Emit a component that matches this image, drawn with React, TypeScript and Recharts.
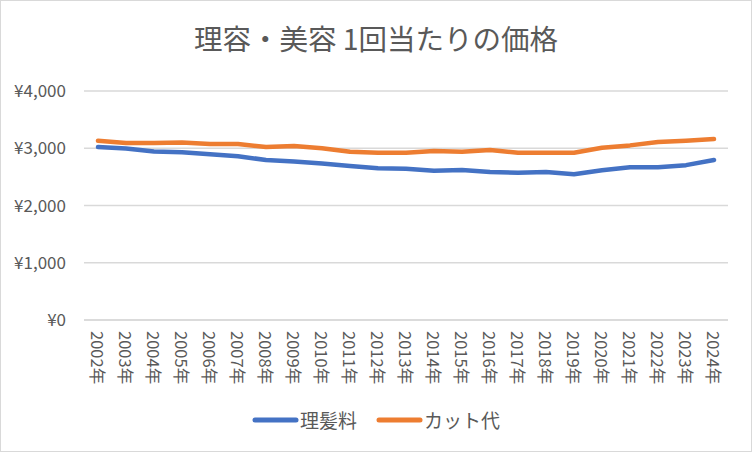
import React from "react";
import { LineChart, Line, XAxis, YAxis, CartesianGrid, Legend } from "recharts";

const years = [
  "2002年", "2003年", "2004年", "2005年", "2006年", "2007年", "2008年", "2009年",
  "2010年", "2011年", "2012年", "2013年", "2014年", "2015年", "2016年", "2017年",
  "2018年", "2019年", "2020年", "2021年", "2022年", "2023年", "2024年",
];
const barber = [
  3020, 2995, 2945, 2930, 2895, 2860, 2795, 2770, 2735, 2690, 2650, 2640,
  2605, 2620, 2585, 2570, 2585, 2545, 2615, 2670, 2670, 2705, 2795,
];
const cut = [
  3130, 3090, 3090, 3100, 3075, 3075, 3020, 3040, 3000, 2940, 2920, 2920,
  2950, 2940, 2970, 2920, 2920, 2920, 3010, 3050, 3110, 3130, 3160,
];
const yTicks = [0, 1000, 2000, 3000, 4000];
const seriesNames = ["理髪料", "カット代"];
const title = "理容・美容 1回当たりの価格";

const data = years.map((y, i) => ({ year: y, barber: barber[i], cut: cut[i] }));

const FONT = "'Noto Sans CJK JP', 'Noto Sans', sans-serif";
const TEXT = "#595959";
const BLUE = "#4472C4";
const ORANGE = "#ED7D31";
const GRID = "#d9d9d9";

const yen = (v: number) => "¥" + v.toLocaleString("en-US");

const XTick = (props: any) => {
  const { x, y, payload } = props;
  const ty = y + 11;
  return (
    <text
      x={x}
      y={ty}
      transform={`rotate(90, ${x}, ${ty})`}
      textAnchor="start"
      dominantBaseline="central"
      fill={TEXT}
      fontSize={16.5}
      fontFamily={FONT}
    >
      {payload.value}
    </text>
  );
};

const LegendContent = () => {
  const items = [
    { name: seriesNames[0], color: BLUE },
    { name: seriesNames[1], color: ORANGE },
  ];
  return (
    <div
      style={{
        height: 52,
        width: 752,
        boxSizing: "border-box",
        paddingTop: 8,
        display: "flex",
        justifyContent: "center",
        alignItems: "flex-start",
        fontFamily: FONT,
        color: TEXT,
        fontSize: 19,
      }}
    >
      {items.map((it, i) => (
        <div
          key={it.name}
          style={{
            display: "flex",
            alignItems: "center",
            height: 24,
            marginLeft: i === 0 ? 0 : 19,
          }}
        >
          <svg width={47} height={24} style={{ display: "block" }}>
            <line
              x1={3}
              y1={12}
              x2={44}
              y2={12}
              stroke={it.color}
              strokeWidth={5}
              strokeLinecap="round"
            />
          </svg>
          <span style={{ marginLeft: 1, lineHeight: "24px" }}>{it.name}</span>
        </div>
      ))}
    </div>
  );
};

export default function App() {
  return (
    <div style={{ position: "absolute", left: 0, top: 0, width: 752, height: 452, background: "#fff" }}>
      <div
        style={{
          position: "absolute",
          left: 0,
          top: 18,
          width: 752,
          textAlign: "center",
          fontFamily: FONT,
          fontSize: 28.5,
          color: TEXT,
          lineHeight: "40px",
          zIndex: 2,
        }}
      >
        {title}
      </div>
      <LineChart
        width={752}
        height={452}
        data={data}
        margin={{ top: 91, right: 24, left: 0, bottom: 0 }}
      >
        <CartesianGrid horizontal vertical={false} stroke={GRID} strokeWidth={1.5} />
        <XAxis
          dataKey="year"
          interval={0}
          height={80}
          padding={{ left: 14, right: 14 }}
          tick={<XTick />}
          tickLine={false}
          tickSize={0}
          tickMargin={0}
          axisLine={{ stroke: GRID, strokeWidth: 1.5 }}
        />
        <YAxis
          width={84}
          domain={[0, 4000]}
          ticks={yTicks}
          tickFormatter={yen}
          axisLine={false}
          tickLine={false}
          tickSize={0}
          tickMargin={18}
          tick={{ fill: TEXT, fontSize: 17, fontFamily: FONT }}
        />
        <Legend
          verticalAlign="bottom"
          height={52}
          wrapperStyle={{ left: 0, width: 752 }}
          content={<LegendContent />}
        />
        <Line
          type="linear"
          dataKey="barber"
          name={seriesNames[0]}
          stroke={BLUE}
          strokeWidth={4.5}
          strokeLinecap="round"
          strokeLinejoin="round"
          dot={false}
          activeDot={false}
          isAnimationActive={false}
        />
        <Line
          type="linear"
          dataKey="cut"
          name={seriesNames[1]}
          stroke={ORANGE}
          strokeWidth={4.5}
          strokeLinecap="round"
          strokeLinejoin="round"
          dot={false}
          activeDot={false}
          isAnimationActive={false}
        />
      </LineChart>
      <div
        style={{
          position: "absolute",
          left: 0,
          top: 0,
          width: 752,
          height: 452,
          boxSizing: "border-box",
          border: "1.5px solid #d9d9d9",
          pointerEvents: "none",
        }}
      />
    </div>
  );
}
